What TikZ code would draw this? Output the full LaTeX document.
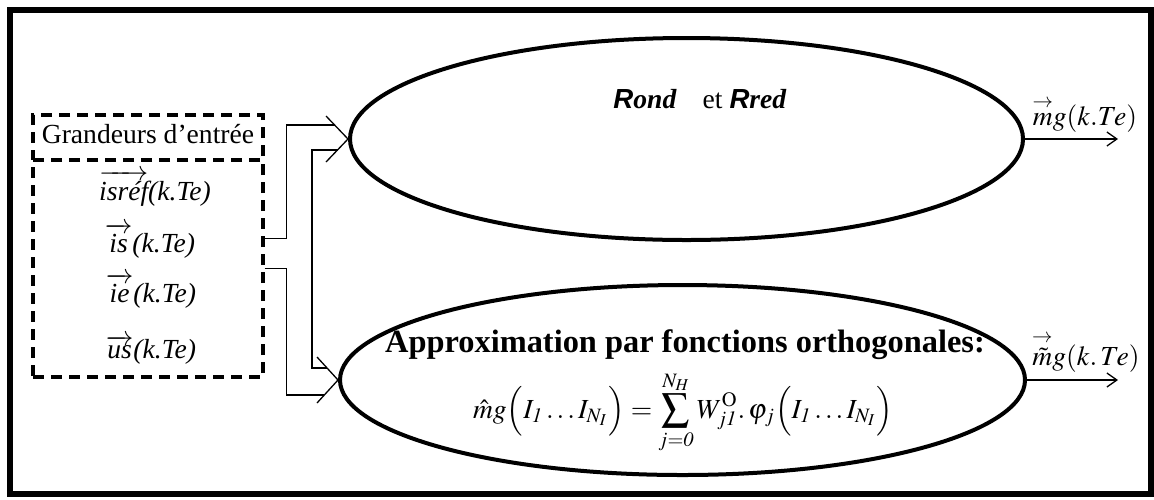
\documentclass[tikz,border=0pt]{standalone}
\usepackage{amsmath}
\usepackage{mathtools}
\usepackage{mathptmx}
\usepackage{fontspec}
\setmainfont{Liberation Serif}
\newfontfamily\arialfont{Liberation Sans}
\usepackage{tikz}
\usetikzlibrary{
    positioning,
    arrows.meta,
    shapes.geometric,
    calc,
}
\tikzset{
    % Node styles
    bloc/.style={ellipse, draw, line width=2pt, inner sep=0pt},
    dashbox/.style={rectangle, draw, dash pattern=on 5.5pt off 3.5pt, line width=1.6pt, inner sep=0pt},
    txt/.style={inner sep=0pt, anchor=base},
    % Arrow styles
    link/.style={line width=0.65pt},
    barb/.style={line width=0.65pt},
    out arrow/.style={-{Straight Barb[length=5pt,width=7pt]}, line width=0.65pt},
    frame/.style={line width=3pt},
}
\newcommand{\boldR}{{\arialfont\bfseries\itshape R}}
\newcommand{\arrm}{\overset{\mathclap{\rightarrow}}{m}}

\begin{document}
\begin{tikzpicture}[x=0.5pt, y=-0.5pt,
    font=\fontsize{13.8}{16}\selectfont,
]
    \useasboundingbox (0,0) rectangle (1154,499);
    \draw[frame] (10,10) rectangle (1151,494);

    % Inputs
    \node[dashbox, minimum width=115pt, minimum height=22.5pt] (hdr) at (148,137.5) {};
    \node[txt] at (148,143) {Grandeurs d’entrée};
    \node[dashbox, minimum width=115pt, minimum height=108.5pt] (inbox) at (148,268.5) {};
    \node[txt] (in1) at (155,200) {$\overrightarrow{\textit{isréf}}$\textit{(k.Te)}};
    \node[txt] (in2) at (150,252) {$\overrightarrow{\textit{is}}$\textit{(k.Te)}};
    \node[txt] (in3) at (151,302) {$\overrightarrow{\textit{ie}}$\textit{(k.Te)}};
    \node[txt] (in4) at (151,358) {$\overrightarrow{\textit{us}}$\textit{(k.Te)}};

    % Blocks
    \node[bloc, minimum width=336.5pt, minimum height=101pt] (rond) at (686.5,139) {};
    \node[txt] (rondtxt) at (700,108) {\boldR\textbf{\textit{ond}}\hspace{13pt}et \boldR\textbf{\textit{red}}};
    \node[bloc, minimum width=342.5pt, minimum height=95pt] (approx) at (682.5,380) {};
    \node[txt, font=\fontsize{16.2}{18}\selectfont\bfseries] (title) at (685,352) {Approximation par fonctions orthogonales:};
    \node[txt] (formula) at (683,418) {$\displaystyle \hat{m}g\Bigl(I_{\mathit{1}}\ldots I_{N_I}\Bigr)=\sum_{j=\mathit{0}}^{N_H}W_{j\mathit{1}}^{\mathrm{O}}.\,\varphi_j\Bigl(I_{\mathit{1}}\ldots I_{N_I}\Bigr)$};

    % Arrow heads on the blocks
    \draw[barb] ($(rond.west)+(-22,-23)$) -- (rond.west) -- ($(rond.west)+(-22,23)$);
    \draw[barb] ($(approx.west)+(-21,-23)$) -- (approx.west) -- ($(approx.west)+(-21,23)$);
    \coordinate (r1) at ($(rond.west)+(-13.4,-14)$);
    \coordinate (r2) at ($(rond.west)+(-10.5,11)$);
    \coordinate (a1) at ($(approx.west)+(-11,-12)$);
    \coordinate (a2) at ($(approx.west)+(-13.7,15)$);

    % Connectors
    \draw[link] ($(inbox.east)+(0,-30)$) -- ++(22,0) |- (r1);
    \draw[link] (inbox.east) -- ++(22,0) |- (a2);
    \draw[link] (r2) -- ++(-25.5,0) |- (a1);

    % Outputs
    \coordinate (o1) at (1118,139);
    \coordinate (o2) at (1118,380);
    \draw[out arrow] (rond.east) -- (o1);
    \draw[out arrow] (approx.east) -- (o2);
    \node[txt] (mg1) at (1085,125) {$\arrm g(k.Te)$};
    \node[txt] (mg2) at (1086,365) {$\overset{\mathclap{\rightarrow}}{\tilde{m}}g(k.\,Te)$};
\end{tikzpicture}
\end{document}
